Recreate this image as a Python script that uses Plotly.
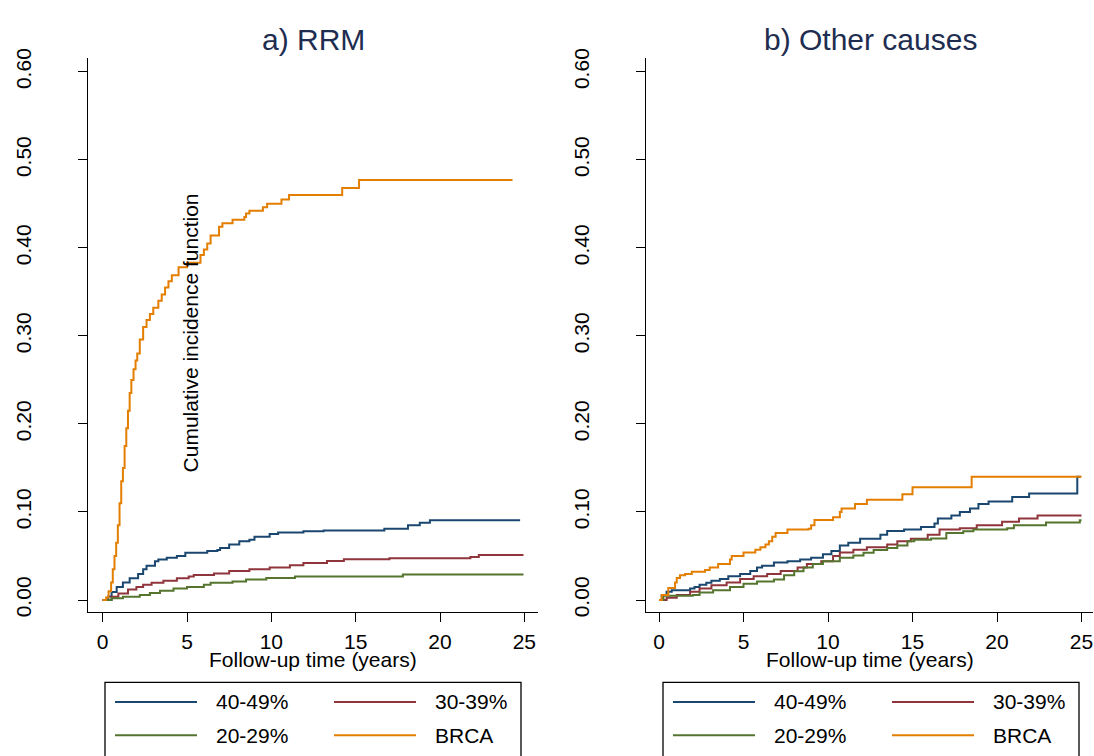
import plotly.graph_objects as go

W, H = 1094, 756

# ---------------- data ----------------
series_names = ["40-49%", "30-39%", "20-29%", "BRCA"]
series_colors = ["#1a476f", "#90353b", "#55752f", "#e37e00"]
panel_titles = ["a) RRM", "b) Other causes"]
x_title = "Follow-up time (years)"
y_title = "Cumulative incidence function"
x_ticks = [0, 5, 10, 15, 20, 25]
y_ticks = [0.0, 0.1, 0.2, 0.3, 0.4, 0.5, 0.6]

# Panel a) RRM
rrm_4049_t = [0, 0.33, 0.53, 0.83, 1.2, 1.6, 2.1, 2.4, 2.6, 3.1, 3.3, 3.8, 4.4, 4.9, 6.2, 6.8,
              6.96, 7.5, 8.1, 8.7, 9.0, 9.9, 10.4, 11.9, 13.1, 16.7, 18.1, 18.8, 19.4, 24.75]
rrm_4049_v = [0, 0.004, 0.009, 0.0148, 0.02, 0.0248, 0.0296, 0.035, 0.039, 0.044, 0.046, 0.048,
              0.05, 0.0537, 0.0556, 0.0567, 0.059, 0.063, 0.0667, 0.0685, 0.072, 0.075, 0.0767,
              0.078, 0.079, 0.081, 0.085, 0.0878, 0.0907, 0.0907]
rrm_3039_t = [0, 0.53, 0.93, 1.5, 2.0, 2.4, 2.9, 3.6, 4.4, 5.1, 5.4, 6.6, 7.5, 8.7, 9.9, 11.1,
              11.9, 13.3, 14.3, 17.0, 21.8, 22.3, 24.95]
rrm_3039_v = [0, 0.0037, 0.0074, 0.0119, 0.0148, 0.0174, 0.0196, 0.022, 0.0248, 0.0267, 0.0285,
              0.030, 0.033, 0.035, 0.037, 0.0396, 0.042, 0.0444, 0.0463, 0.0474, 0.049, 0.051, 0.051]
rrm_2029_t = [0, 0.53, 1.2, 2.2, 2.8, 3.4, 4.2, 5.0, 6.0, 6.4, 7.7, 8.5, 9.7, 11.4, 17.8, 24.95]
rrm_2029_v = [0, 0.0019, 0.0037, 0.0056, 0.0081, 0.0104, 0.013, 0.0148, 0.0174, 0.0196, 0.021,
              0.0233, 0.025, 0.0267, 0.0289, 0.0289]
rrm_brca_t = [0, 0.2, 0.35, 0.5, 0.6, 0.7, 0.8, 0.9, 1.0, 1.1, 1.2, 1.3, 1.4, 1.5, 1.6, 1.7,
              1.83, 1.95, 2.05, 2.2, 2.4, 2.6, 2.8, 3.0, 3.3, 3.5, 3.7, 3.9, 4.1, 4.5, 5.0, 5.8,
              6.0, 6.2, 6.4, 6.9, 7.1, 7.7, 8.4, 8.5, 8.7, 9.5, 9.75, 10.6, 11.05, 14.2, 15.2, 24.3]
rrm_brca_v = [0, 0.003, 0.01, 0.02, 0.035, 0.05, 0.065, 0.085, 0.11, 0.135, 0.15, 0.175, 0.195,
              0.215, 0.235, 0.25, 0.262, 0.272, 0.28, 0.296, 0.31, 0.318, 0.325, 0.332, 0.34,
              0.347, 0.355, 0.362, 0.369, 0.378, 0.383, 0.392, 0.398, 0.405, 0.414, 0.424, 0.428,
              0.432, 0.435, 0.439, 0.442, 0.446, 0.45, 0.455, 0.46, 0.468, 0.477, 0.477]

# Panel b) Other causes
oth_4049_t = [0, 0.16, 0.45, 0.75, 1.84, 2.1, 2.4, 2.8, 3.1, 3.6, 4.1, 4.8, 5.4, 5.8, 6.1, 6.8,
              7.6, 8.35, 9.0, 9.7, 10.2, 10.7, 11.2, 11.9, 13.1, 13.5, 14.5, 15.5, 16.3, 16.5,
              17.3, 17.8, 18.4, 18.9, 19.5, 20.9, 21.9, 24.75, 24.95]
oth_4049_v = [0, 0.0056, 0.0093, 0.011, 0.013, 0.0148, 0.0174, 0.0196, 0.022, 0.024, 0.027,
              0.0296, 0.033, 0.037, 0.039, 0.0426, 0.044, 0.046, 0.048, 0.052, 0.0556, 0.062,
              0.065, 0.0696, 0.074, 0.0785, 0.08, 0.083, 0.087, 0.0926, 0.096, 0.10, 0.104,
              0.109, 0.112, 0.117, 0.121, 0.14, 0.14]
oth_3039_t = [0, 0.45, 1.05, 1.84, 2.4, 3.1, 4.0, 4.8, 5.6, 6.4, 7.2, 8.2, 8.75, 9.6, 10.3,
              10.7, 11.5, 12.3, 13.5, 14.1, 14.9, 15.9, 16.6, 17.8, 18.8, 20.3, 21.3, 22.4, 25.0]
oth_3039_v = [0, 0.0026, 0.0056, 0.0093, 0.013, 0.0167, 0.020, 0.024, 0.027, 0.0296, 0.033,
              0.037, 0.041, 0.044, 0.05, 0.054, 0.057, 0.060, 0.063, 0.0667, 0.0696, 0.074,
              0.08, 0.0815, 0.085, 0.089, 0.0926, 0.096, 0.096]
oth_2029_t = [0, 0.26, 2.0, 2.4, 3.2, 4.2, 5.0, 5.8, 6.8, 7.4, 8.0, 8.55, 9.1, 9.7, 10.7, 11.5,
              12.1, 12.7, 13.5, 14.1, 14.7, 15.1, 16.1, 17.0, 18.0, 18.6, 20.6, 21.0, 22.9, 24.9, 25.0]
oth_2029_v = [0, 0.0048, 0.0056, 0.0085, 0.011, 0.0148, 0.0185, 0.021, 0.0233, 0.028, 0.0326,
              0.037, 0.041, 0.044, 0.048, 0.0507, 0.0537, 0.0567, 0.059, 0.062, 0.0667, 0.0685,
              0.070, 0.076, 0.078, 0.08, 0.0815, 0.085, 0.088, 0.0907, 0.0907]
oth_brca_t = [0, 0.16, 0.55, 0.95, 1.05, 1.24, 1.54, 1.94, 2.72, 3.0, 3.5, 4.2, 4.3, 5.0, 5.7,
              6.0, 6.3, 6.5, 6.7, 6.9, 7.6, 8.85, 9.0, 9.2, 10.3, 10.7, 10.8, 11.6, 12.3, 14.4,
              15.0, 18.5, 25.0]
oth_brca_v = [0, 0.0056, 0.0137, 0.02, 0.025, 0.028, 0.0296, 0.032, 0.034, 0.037, 0.041, 0.046,
              0.05, 0.054, 0.057, 0.060, 0.063, 0.0667, 0.072, 0.076, 0.080, 0.081, 0.085, 0.091,
              0.094, 0.10, 0.104, 0.109, 0.114, 0.12, 0.128, 0.14, 0.14]

panels = [
    [(rrm_4049_t, rrm_4049_v), (rrm_3039_t, rrm_3039_v), (rrm_2029_t, rrm_2029_v), (rrm_brca_t, rrm_brca_v)],
    [(oth_4049_t, oth_4049_v), (oth_3039_t, oth_3039_v), (oth_2029_t, oth_2029_v), (oth_brca_t, oth_brca_v)],
]

# ---------------- layout helpers ----------------
FONT = "Liberation Sans, Arial, sans-serif"
TITLE_COLOR = "#1e2d50"


def px(x):
    # screen pixel -> paper fraction
    return x / W


def py(y):
    return (H - y) / H


fig = go.Figure()

axis_ids = [("x", "y"), ("x2", "y2")]
for p, series in enumerate(panels):
    xa, ya = axis_ids[p]
    for (t, v), name, color in zip(series, series_names, series_colors):
        fig.add_trace(go.Scatter(x=t, y=v, mode="lines", name=name, xaxis=xa, yaxis=ya,
                                 line=dict(color=color, width=2, shape="hv"),
                                 showlegend=False, hoverinfo="skip"))

x_domains = [[px(88), px(538)], [px(646), px(1093)]]
x_ranges = [[-0.87, 25.81], [-0.77, 25.68]]
y_domain = [py(614), py(49)]
y_range = [-0.0134, 0.6156]

common_axis = dict(showline=True, linecolor="black", linewidth=1.3, ticks="outside",
                   ticklen=9, tickwidth=1.3, tickcolor="black", showgrid=False, zeroline=False,
                   tickfont=dict(family=FONT, size=21, color="black"), mirror=False)

for p in range(2):
    sfx = "" if p == 0 else "2"
    fig.update_layout(**{
        "xaxis" + sfx: dict(domain=x_domains[p], range=x_ranges[p], tickvals=x_ticks,
                            anchor="y" + sfx, ticklabelstandoff=2, **common_axis),
        "yaxis" + sfx: dict(domain=y_domain, range=y_range, tickvals=y_ticks,
                            tickformat=".2f", tickangle=-90, anchor="x" + sfx,
                            ticklabelstandoff=38, **common_axis),
    })

annotations = []
title_x = [313, 870]
for p in range(2):
    annotations.append(dict(text=panel_titles[p], x=px(title_x[p]), y=py(30), xref="paper",
                            yref="paper", showarrow=False, xanchor="center", yanchor="middle",
                            font=dict(family=FONT, size=30, color=TITLE_COLOR)))
    annotations.append(dict(text=x_title, x=px(title_x[p]), y=py(663), xref="paper",
                            yref="paper", showarrow=False, xanchor="center", yanchor="middle",
                            font=dict(family=FONT, size=21, color="black")))

annotations.append(dict(text=y_title, x=px(190), y=py(330), xref="paper", yref="paper",
                        showarrow=False, textangle=-90, xanchor="center", yanchor="middle",
                        font=dict(family=FONT, size=21, color="black")))

# custom legends (one per panel)
shapes = []
legend_left = [105, 663]
legend_width = 416
row_y = [706, 740]
for p in range(2):
    L = legend_left[p]
    shapes.append(dict(type="rect", xref="paper", yref="paper", x0=px(L), x1=px(L + legend_width),
                       y0=py(775), y1=py(686), line=dict(color="black", width=1.3),
                       fillcolor="rgba(0,0,0,0)"))
    for i, (name, color) in enumerate(zip(series_names, series_colors)):
        col, row = i % 2, i // 2
        lx0 = L + 10 + col * 219
        shapes.append(dict(type="line", xref="paper", yref="paper", x0=px(lx0), x1=px(lx0 + 82),
                           y0=py(row_y[row]), y1=py(row_y[row]),
                           line=dict(color=color, width=2)))
        annotations.append(dict(text=name, x=px(lx0 + 99), y=py(row_y[row]), xref="paper",
                                yref="paper", showarrow=False, xanchor="left", yanchor="middle",
                                font=dict(family=FONT, size=21, color="black")))

fig.update_layout(width=W, height=H, autosize=False, margin=dict(l=0, r=0, t=0, b=0),
                  paper_bgcolor="white", plot_bgcolor="white", showlegend=False,
                  annotations=annotations, shapes=shapes,
                  font=dict(family=FONT, size=21, color="black"))

# remove the browser's default page margin so the figure fills the window exactly
fig.write_html("out.html", config={"displayModeBar": False},
               post_script="document.body.style.margin='0';document.body.style.overflow='hidden';")
